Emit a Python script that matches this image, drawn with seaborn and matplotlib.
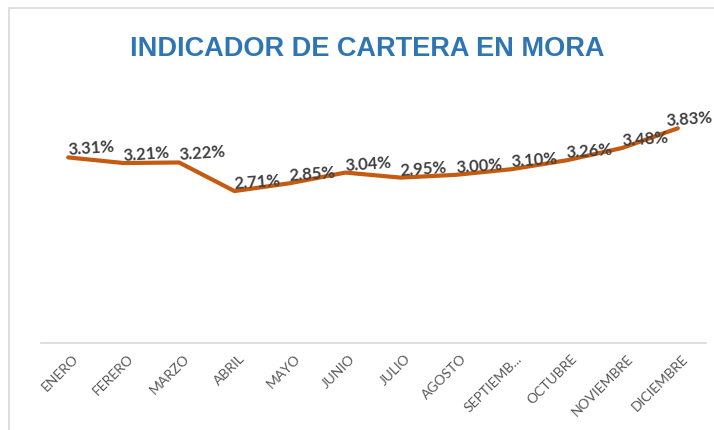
import pandas as pd
import matplotlib.pyplot as plt
import matplotlib.transforms as mtransforms
import seaborn as sns
from matplotlib.patches import Rectangle

meses = ["ENERO", "FERERO", "MARZO", "ABRIL", "MAYO", "JUNIO", "JULIO",
         "AGOSTO", "SEPTIEMB...", "OCTUBRE", "NOVIEMBRE", "DICIEMBRE"]
mora = [3.31, 3.21, 3.22, 2.71, 2.85, 3.04, 2.95, 3.00, 3.10, 3.26, 3.48, 3.83]

df = pd.DataFrame({"pos": range(len(meses)), "mes": meses, "mora": mora})

sns.set_style("white")
plt.rcParams["font.family"] = ["Lato", "DejaVu Sans"]

fig = plt.figure(figsize=(7.14, 4.30), dpi=100)
# chart frame (light border at top and left)
fig.patches.append(Rectangle((9 / 714, -0.05), 1.1, 1 - 8 / 430 + 0.05,
                             transform=fig.transFigure, fill=False,
                             edgecolor="#D9D9D9", linewidth=1.2))

ax = fig.add_axes([40.5 / 714, 1 - 343 / 430, 665 / 714, 245 / 430])
sns.lineplot(data=df, x="pos", y="mora", ax=ax, color="#C55A11",
             linewidth=3.0, solid_capstyle="round", solid_joinstyle="round")

ax.set_xlim(-0.5, 11.5)
ax.set_ylim(0, 4.37)
ax.set_yticks([])
ax.set_xticks(df["pos"])
ax.set_xticklabels(meses, rotation=45, ha="right", rotation_mode="anchor",
                   fontsize=10, color="#595959")
ax.tick_params(axis="x", length=0, pad=7)
shift = mtransforms.ScaledTranslation(4 / 100, 0, fig.dpi_scale_trans)
for lbl in ax.get_xticklabels():
    lbl.set_transform(lbl.get_transform() + shift)
ax.set_xlabel("")
ax.set_ylabel("")
for side in ["top", "right", "left"]:
    ax.spines[side].set_visible(False)
ax.spines["bottom"].set_color("#D9D9D9")
ax.spines["bottom"].set_linewidth(1.2)

for x, y in zip(df["pos"], df["mora"]):
    dx = -12 if x == 11 else -1
    ax.annotate(f"{y:.2f}%", (x, y), xytext=(dx, -1), textcoords="offset pixels",
                ha="left", va="bottom", fontsize=12, fontweight="bold",
                color="#404040", rotation=4, annotation_clip=False)

fig.text(367 / 714, 1 - 48.5 / 430, "INDICADOR DE CARTERA EN MORA",
         ha="center", va="center", fontsize=19.5, fontweight="bold",
         color="#2E75B6", family=["Liberation Sans", "DejaVu Sans"])

fig.savefig("out.png", dpi=100)
